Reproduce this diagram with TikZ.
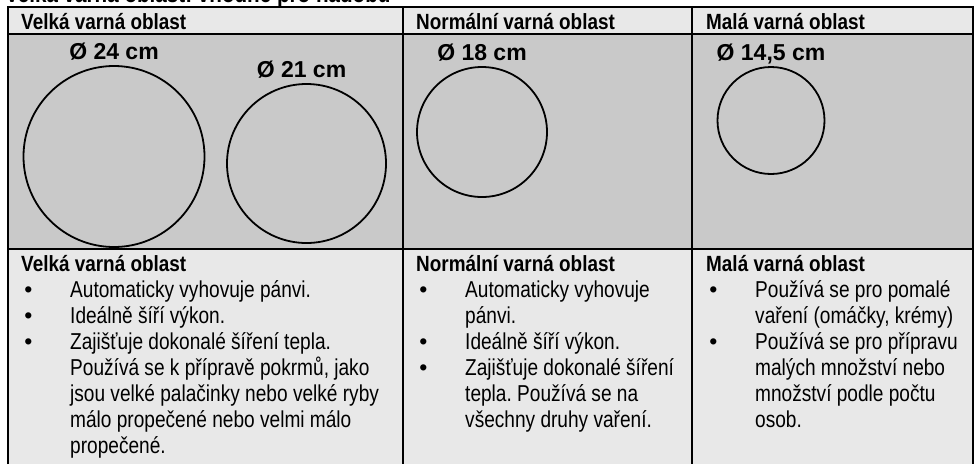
\documentclass[tikz,border=0pt]{standalone}
\usepackage{fontspec}
\setmainfont{Liberation Sans}
\newfontfamily\narrowfont{Liberation Sans}[FakeStretch=0.86]
\newfontfamily\bodyfont{Liberation Sans}[FakeStretch=0.83]
\usepackage{tikz}
\usetikzlibrary{shapes, positioning}
\usepackage{array}
\frenchspacing
\definecolor{headgray}{gray}{0.91}
\definecolor{zonegray}{gray}{0.79}
\tikzstyle{hob} = [circle, draw=black, line width=1.8pt, inner sep=0pt]
\tikzstyle{dia} = [font=\fontsize{23}{26}\selectfont\bfseries, inner sep=0pt, anchor=base]
\tikzstyle{head} = [font=\narrowfont\fontsize{22}{26}\selectfont\bfseries, inner sep=0pt, anchor=base west]
\tikzstyle{items} = [font=\bodyfont\fontsize{23}{26}\selectfont, inner sep=0pt, anchor=base west]
\tikzstyle{gridline} = [line width=1.6pt]
\newcommand{\bul}{\hspace*{3.2pt}{\rmfamily\textbullet}}

\begin{document}
\begin{tikzpicture}[x=1pt, y=-1pt]
			\useasboundingbox (0,0) rectangle (979,464);
			% table
			\fill[headgray] (8,7) rectangle (973,34);
			\fill[zonegray] (8,34) rectangle (973,249);
			\fill[headgray] (8,249) rectangle (973,464);
			\draw[gridline] (8,464) -- (8,7) -- (973,7) -- (973,464);
			\draw[gridline] (8,34) -- (973,34);
			\draw[gridline] (8,249) -- (973,249);
			\draw[gridline] (403,7) -- (403,464);
			\draw[gridline] (692,7) -- (692,464);

			\node(title)[head, font=\narrowfont\fontsize{24}{28}\selectfont\bfseries] at (5,2.5) {Velká varná oblast: vhodné pro nádobu};
			\node(bigzone)[head] at (21,29) {Velká varná oblast};
			\node(midzone)[head] at (416,29) {Normální varná oblast};
			\node(smallzone)[head] at (706,29) {Malá varná oblast};

			\node(hob24)[hob, minimum size=181pt] at (114,156.5) {};
			\node(hob21)[hob, minimum size=159pt] at (306.5,163.5) {};
			\node(hob18)[hob, minimum size=130pt] at (482,132) {};
			\node(hob14)[hob, minimum size=107pt] at (771,120.5) {};

			\node(d24)[dia] at ([yshift=6pt]hob24.north) {Ø 24 cm};
			\node(d21)[dia] at ([xshift=-5pt, yshift=6pt]hob21.north) {Ø 21 cm};
			\node(d18)[dia] at ([yshift=6pt]hob18.north) {Ø 18 cm};
			\node(d14)[dia] at ([yshift=6pt]hob14.north) {Ø 14,5 cm};

			\node(bigtitle)[head] at (21,271) {Velká varná oblast};
			\node(biglist)[items] at (21,297) {\begin{tabular}[t]{@{}p{49pt}@{}l@{}}
				\bul & Automaticky vyhovuje pánvi.\\
				\bul & Ideálně šíří výkon.\\
				\bul & Zajišťuje dokonalé šíření tepla.\\
				& Používá se k přípravě pokrmů, jako\\
				& jsou velké palačinky nebo velké ryby\\
				& málo propečené nebo velmi málo\\
				& propečené.
			\end{tabular}};

			\node(midtitle)[head] at (416,271) {Normální varná oblast};
			\node(midlist)[items] at (416,297) {\begin{tabular}[t]{@{}p{49pt}@{}l@{}}
				\bul & Automaticky vyhovuje\\
				& pánvi.\\
				\bul & Ideálně šíří výkon.\\
				\bul & Zajišťuje dokonalé šíření\\
				& tepla. Používá se na\\
				& všechny druhy vaření.
			\end{tabular}};

			\node(smalltitle)[head] at (706,271) {Malá varná oblast};
			\node(smalllist)[items] at (706,297) {\begin{tabular}[t]{@{}p{49pt}@{}l@{}}
				\bul & Používá se pro pomalé\\
				& vaření (omáčky, krémy)\\
				\bul & Používá se pro přípravu\\
				& malých množství nebo\\
				& množství podle počtu\\
				& osob.
			\end{tabular}};
		\end{tikzpicture}
\end{document}
